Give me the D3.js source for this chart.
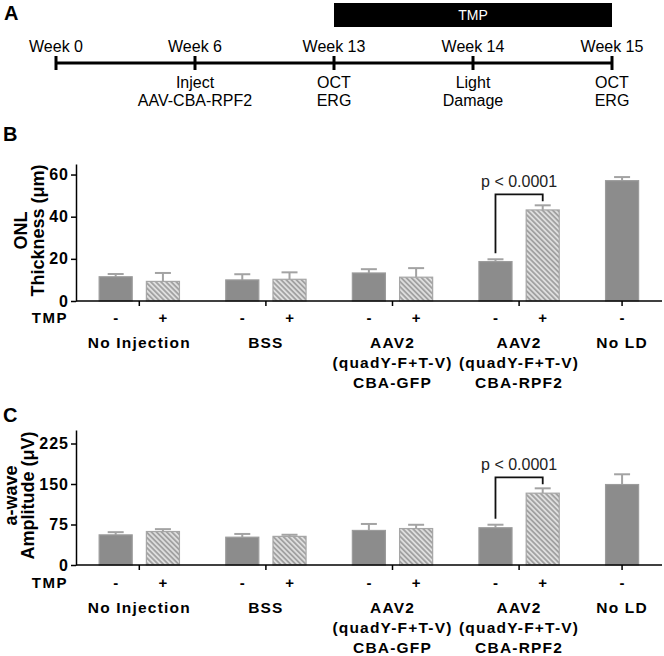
<!DOCTYPE html>
<html><head><meta charset="utf-8">
<script src="https://cdn.jsdelivr.net/npm/d3@7"></script>
<style>body{margin:0;background:#fff} svg{display:block}</style>
</head><body><div id="chart"></div>
<script>
// ---------- data ----------
const weeks = ["Week 0", "Week 6", "Week 13", "Week 14", "Week 15"];
const weekEvents = [[], ["Inject", "AAV-CBA-RPF2"], ["OCT", "ERG"], ["Light", "Damage"], ["OCT", "ERG"]];
const tmpPeriod = ["Week 13", "Week 15"];
const groups = ["NoInj", "BSS", "AAV-GFP", "AAV-RPF2", "NoLD"];
const groupLabels = [["No Injection"], ["BSS"], ["AAV2", "(quadY-F+T-V)", "CBA-GFP"], ["AAV2", "(quadY-F+T-V)", "CBA-RPF2"], ["No LD"]];
const tmpStates = ["-", "+"];
const barGroup = ["NoInj", "NoInj", "BSS", "BSS", "AAV-GFP", "AAV-GFP", "AAV-RPF2", "AAV-RPF2", "NoLD"];
const barTmp = ["-", "+", "-", "+", "-", "+", "-", "+", "-"];
const onlMean = [11.5, 9.3, 10.0, 10.3, 13.3, 11.3, 18.7, 43.2, 57.1];
const onlErr = [1.3, 4.0, 2.7, 3.3, 1.8, 4.3, 1.1, 2.2, 1.7];
const onlTicks = [0, 20, 40, 60];
const awaveMean = [55.8, 62.0, 51.5, 53.0, 64.0, 67.5, 69.0, 133.0, 149.0];
const awaveErr = [5.0, 4.4, 6.0, 3.0, 12.0, 7.0, 5.6, 9.0, 19.0];
const awaveTicks = [0, 75, 150, 225];
const pLabel = "p < 0.0001";
const pPair = [6, 7]; // indices of compared bars

// ---------- setup ----------
const W = 664, H = 656;
const FONT = "'Liberation Sans', Arial, sans-serif";
const svg = d3.select("#chart").append("svg").attr("width", W).attr("height", H)
  .style("font-family", FONT);
svg.append("rect").attr("width", W).attr("height", H).attr("fill", "#fff");

const defs = svg.append("defs");
const pat = defs.append("pattern").attr("id", "hatch").attr("patternUnits", "userSpaceOnUse")
  .attr("width", 3.6).attr("height", 3.6).attr("patternTransform", "rotate(-45)");
pat.append("rect").attr("width", 3.6).attr("height", 3.6).attr("fill", "#dedede");
pat.append("line").attr("x1", 0.9).attr("x2", 0.9).attr("y1", 0).attr("y2", 3.6)
  .attr("stroke", "#9a9a9a").attr("stroke-width", 1.6);

// ---------- Panel A ----------
const A = svg.append("g");
A.append("text").attr("x", 4).attr("y", 20).text("A").attr("font-weight", "bold").attr("font-size", 20);
const xA = d3.scalePoint().domain(weeks).range([56, 612]);
const lineY = 63;
A.append("rect").attr("x", xA(tmpPeriod[0])).attr("width", xA(tmpPeriod[1]) - xA(tmpPeriod[0]))
  .attr("y", 3).attr("height", 24).attr("fill", "#000");
A.append("text").attr("x", (xA(tmpPeriod[0]) + xA(tmpPeriod[1])) / 2).attr("y", 20)
  .attr("text-anchor", "middle").attr("fill", "#fff").attr("font-size", 14).text("TMP");
A.append("line").attr("x1", xA(weeks[0])).attr("x2", xA(weeks[weeks.length - 1]))
  .attr("y1", lineY).attr("y2", lineY).attr("stroke", "#000").attr("stroke-width", 3);
weeks.forEach((w, i) => {
  A.append("line").attr("x1", xA(w)).attr("x2", xA(w)).attr("y1", lineY - 7).attr("y2", lineY + 7)
    .attr("stroke", "#000").attr("stroke-width", 3);
  A.append("text").attr("x", xA(w)).attr("y", lineY - 11).attr("text-anchor", "middle")
    .attr("font-size", 16).text(w);
  weekEvents[i].forEach((t, j) => {
    A.append("text").attr("x", xA(w)).attr("y", lineY + 25 + j * 18).attr("text-anchor", "middle")
      .attr("font-size", 16).text(t);
  });
});

// ---------- bar panels ----------
function barPanel(o) {
  const g = svg.append("g");
  const axisX = 76;
  const y = d3.scaleLinear().domain([0, o.max]).range([o.zeroY, o.topY]);
  const x0 = d3.scaleBand().domain(groups).range([axisX, axisX + 5 * 126.6]).padding(0);
  const x1 = d3.scaleBand().domain(tmpStates).range([0, x0.bandwidth()]).paddingInner(0.3).paddingOuter(0.49);
  const bx = i => x0(barGroup[i]) + x1(barTmp[i]);
  const bc = i => bx(i) + x1.bandwidth() / 2;

  g.append("text").attr("x", 3).attr("y", o.letterY).text(o.letter)
    .attr("font-weight", "bold").attr("font-size", 20);

  const idx = d3.range(o.means.length);
  // error bars
  const eg = g.append("g").attr("stroke", "#a3a3a3").attr("stroke-width", 2);
  idx.forEach(i => {
    const c = bc(i), t = y(o.means[i] + o.errs[i]);
    eg.append("line").attr("x1", c).attr("x2", c).attr("y1", y(o.means[i])).attr("y2", t);
    eg.append("line").attr("x1", c - 8).attr("x2", c + 8).attr("y1", t).attr("y2", t);
  });
  g.selectAll("rect.bar").data(idx).join("rect").attr("class", "bar")
    .attr("x", i => bx(i)).attr("width", x1.bandwidth())
    .attr("y", i => y(o.means[i])).attr("height", i => y(0) - y(o.means[i]))
    .attr("fill", i => barTmp[i] === "+" ? "url(#hatch)" : "#8c8c8c")
    .attr("stroke", i => barTmp[i] === "+" ? "#a6a6a6" : "#9c9c9c").attr("stroke-width", 1.2);

  // y axis
  const ya = g.append("g").attr("transform", `translate(${axisX},0)`)
    .call(d3.axisLeft(y).tickValues(o.ticks).tickSize(5).tickSizeOuter(0).tickPadding(2));
  ya.select(".domain").attr("stroke", "#000").attr("stroke-width", 1.5);
  ya.selectAll(".tick line").attr("stroke", "#000").attr("stroke-width", 1.5);
  ya.selectAll(".tick text").attr("font-size", 16).attr("font-weight", "bold").attr("fill", "#000")
    .attr("font-family", FONT).style("letter-spacing", "1px");

  // x axis line
  g.append("line").attr("x1", axisX).attr("x2", W - 2).attr("y1", y(0)).attr("y2", y(0))
    .attr("stroke", "#000").attr("stroke-width", 1.5);
  groups.forEach((gr, gi) => {
    const members = idx.filter(i => barGroup[i] === gr);
    const cx = d3.mean(members, bc);
    g.append("line").attr("x1", cx).attr("x2", cx).attr("y1", y(0)).attr("y2", y(0) + 5)
      .attr("stroke", "#000").attr("stroke-width", 1.5);
    groupLabels[gi].forEach((t, j) => {
      g.append("text").attr("x", cx).attr("y", o.labelY + j * 20).attr("text-anchor", "middle")
        .attr("font-size", 15.5).attr("font-weight", "bold").style("letter-spacing", "1.2px").text(t);
    });
  });
  // TMP row
  g.append("text").attr("x", 68).attr("y", o.tmpY).attr("text-anchor", "end")
    .attr("font-size", 15).attr("font-weight", "bold").style("letter-spacing", "1.5px").text("TMP");
  idx.forEach(i => {
    g.append("text").attr("x", bc(i)).attr("y", o.tmpY).attr("text-anchor", "middle")
      .attr("font-size", 15).attr("font-weight", "bold").text(barTmp[i]);
  });

  // y title
  const cy = (o.zeroY + o.topY) / 2 - 2;
  o.title.forEach((t, j) => {
    g.append("text").attr("transform", `translate(${o.titleX[j]},${cy}) rotate(-90)`)
      .attr("text-anchor", "middle").attr("font-size", 18).attr("font-weight", "bold").text(t);
  });

  // significance bracket
  const [a, b] = pPair;
  const ca = bc(a), cb = bc(b);
  const ya0 = y(o.means[a] + o.errs[a]) - 6;
  const yb0 = y(o.means[b] + o.errs[b]) - 4;
  const yt = Math.min(ya0, yb0) - 7;
  g.append("path").attr("d", `M${ca},${ya0}V${yt}H${cb}V${yb0}`)
    .attr("fill", "none").attr("stroke", "#111").attr("stroke-width", 1.8);
  g.append("text").attr("x", (ca + cb) / 2).attr("y", yt - 7).attr("text-anchor", "middle")
    .attr("font-size", 16).attr("fill", "#222").text(pLabel);
}

barPanel({ letter: "B", letterY: 141, topY: 164, zeroY: 301, max: 65, ticks: onlTicks, means: onlMean, errs: onlErr,
  tmpY: 323, labelY: 348, title: ["ONL", "Thickness (\u03bcm)"], titleX: [27, 44] });
barPanel({ letter: "C", letterY: 422, topY: 430, zeroY: 565, max: 250, ticks: awaveTicks, means: awaveMean, errs: awaveErr,
  tmpY: 588, labelY: 613, title: ["a-wave", "Amplitude (\u03bcV)"], titleX: [17, 34] });
</script></body></html>
